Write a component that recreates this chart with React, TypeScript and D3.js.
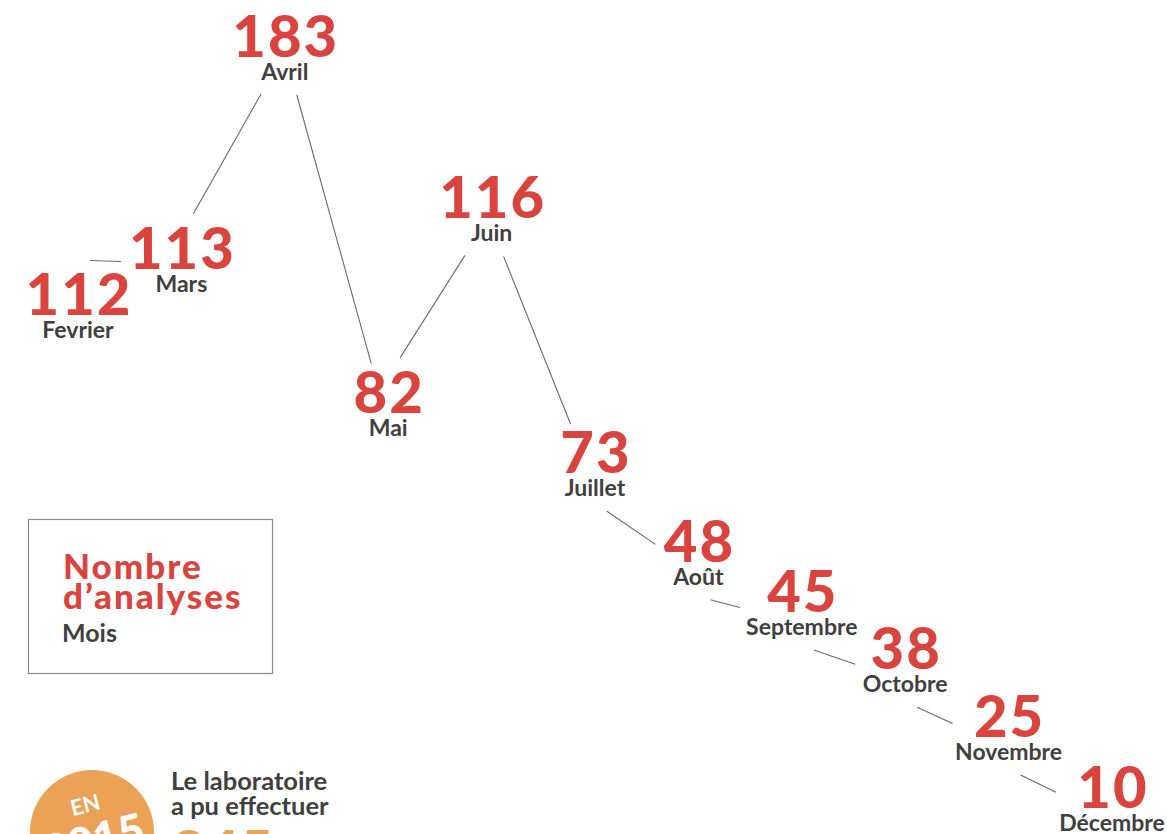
import React from "react";
import * as d3 from "d3";

const months = ["Fevrier", "Mars", "Avril", "Mai", "Juin", "Juillet", "Août", "Septembre", "Octobre", "Novembre", "Décembre"];
const analyses = [112, 113, 183, 82, 116, 73, 48, 45, 38, 25, 10];
const legendTitle = ["Nombre", "d’analyses"];
const legendSub = "Mois";
const noteLines = ["Le laboratoire", "a pu effectuer"];
const yearLabel = ["EN", "2015"];

const W = 1167;
const H = 834;
const RED = "#D9443F";
const GREY = "#404040";
const ORANGE = "#EBA256";

export default function App() {
  const x = d3.scalePoint<string>().domain(months).range([78, 1112]);
  const yLin = d3.scaleLinear().domain(d3.extent(analyses) as [number, number]).range([788, 37]);
  const sorted = [...analyses].sort((a, b) => b - a).map(String);
  const yRank = d3.scalePoint<string>().domain(sorted).range([37, 788]);
  const w = 0.4;
  const y = (v: number) => w * yLin(v) + (1 - w) * (yRank(String(v)) as number);

  const pts = months.map((m, i) => {
    const v = analyses[i];
    const px = x(m) as number;
    const py = y(v);
    const numW = String(v).length * 35;
    const monW = m.length * 12;
    const half = Math.max(numW, monW) / 2;
    return {
      m, v, x: px, y: py,
      numTop: py - 21,
      monBase: py + 43,
      box: { x0: px - half, x1: px + half, y0: py - 21, y1: py + 49 },
    };
  });

  const pad = 8;
  const segs = pts.slice(1).map((b, i) => {
    const a = pts[i];
    const down = b.y > a.y;
    const sx = a.x + 12;
    const sy = down ? a.monBase + 15 : a.numTop - 14;
    const cx = b.x, cy = down ? b.y + 32 : b.y + 15;
    const dx = cx - sx, dy = cy - sy;
    const bx0 = b.box.x0 - pad, bx1 = b.box.x1 + pad, by0 = b.box.y0 - pad, by1 = b.box.y1 + pad;
    let tEnter = 0;
    if (dx !== 0) {
      const t1 = (bx0 - sx) / dx, t2 = (bx1 - sx) / dx;
      tEnter = Math.max(tEnter, Math.min(t1, t2));
    }
    if (dy !== 0) {
      const t1 = (by0 - sy) / dy, t2 = (by1 - sy) / dy;
      tEnter = Math.max(tEnter, Math.min(t1, t2));
    }
    tEnter = Math.min(1, tEnter);
    return { x1: sx, y1: sy, x2: sx + dx * tEnter, y2: sy + dy * tEnter };
  });

  const total = d3.sum(analyses);

  return (
    <svg width={W} height={H} style={{ position: "absolute", left: 0, top: 0, background: "#fff" }} fontFamily="Lato, 'Open Sans', sans-serif">
      {segs.map((s, i) => (
        <line key={i} x1={s.x1} y1={s.y1} x2={s.x2} y2={s.y2} stroke="#6a6a6a" strokeWidth={1.1} />
      ))}
      {pts.map((p) => (
        <g key={p.m}>
          <text x={p.x + 1} y={p.y + 20} textAnchor="middle" fontSize={58} fontWeight={900} letterSpacing={2} fill={RED}>
            {p.v}
          </text>
          <text x={p.x} y={p.monBase} textAnchor="middle" fontSize={23} fontWeight={700} fill={GREY}>
            {p.m}
          </text>
        </g>
      ))}
      <rect x={28.5} y={519.5} width={244} height={154} fill="none" stroke="#8a8a8a" strokeWidth={1.2} />
      {legendTitle.map((t, i) => (
        <text key={t} x={63} y={579 + i * 30} fontSize={35} fontWeight={900} letterSpacing={2} fill={RED}>
          {t}
        </text>
      ))}
      <text x={62} y={642} fontSize={25} fontWeight={700} fill={GREY}>
        {legendSub}
      </text>
      <circle cx={92} cy={832} r={62} fill={ORANGE} />
      <g transform="translate(92,832) rotate(-14)">
        <text x={0} y={-20} textAnchor="middle" fontSize={22} fontWeight={700} fill="#fff">
          {yearLabel[0]}
        </text>
        <text x={0} y={24} textAnchor="middle" fontSize={44} fontWeight={900} fill="#fff">
          {yearLabel[1]}
        </text>
      </g>
      {noteLines.map((t, i) => (
        <text key={t} x={171} y={790 + i * 25} fontSize={25.5} fontWeight={700} fill={GREY}>
          {t}
        </text>
      ))}
      <text x={172} y={872} fontSize={58} fontWeight={900} fill={ORANGE}>
        {total}
      </text>
    </svg>
  );
}
